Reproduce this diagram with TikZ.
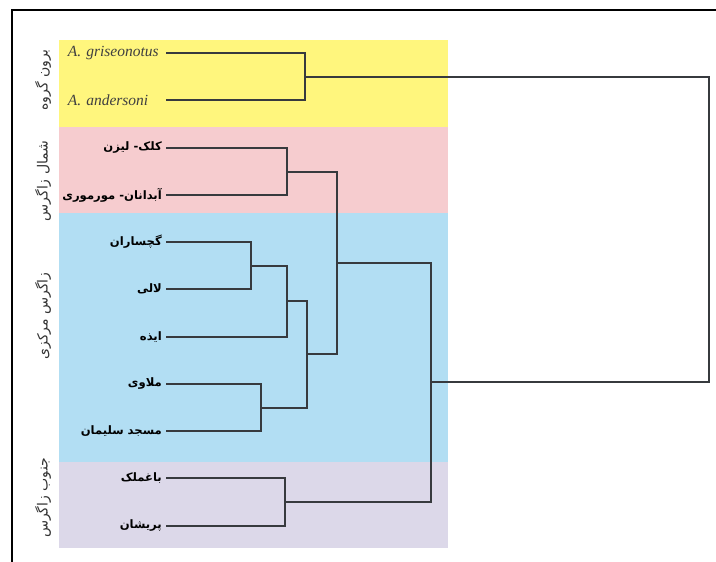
\documentclass[tikz,border=0pt]{standalone}
\usepackage{fontspec}
\setmainfont{Liberation Serif}
\newfontfamily\farsi[Script=Arabic]{DejaVu Sans}
\TeXXeTstate=1

\definecolor{outgroup}{RGB}{255,246,125}
\definecolor{northzag}{RGB}{246,204,207}
\definecolor{centralzag}{RGB}{178,222,243}
\definecolor{southzag}{RGB}{220,216,233}
\definecolor{treeline}{RGB}{55,58,62}

\newcommand{\faname}[1]{{\farsi\bfseries\beginR #1\endR}}
\newcommand{\fagroup}[1]{{\farsi\beginR #1\endR}}

\tikzset{
  branch/.style={draw=treeline, line width=1.6pt},
  leaf/.style={anchor=east, inner xsep=4pt, font=\fontsize{11.6}{14}\selectfont},
  outleaf/.style={anchor=east, inner xsep=3pt, text width=95pt, align=left,
    text=black!75, font=\fontsize{15.5}{17}\selectfont\itshape},
  group/.style={rotate=90, text=black!80, font=\fontsize{14}{16}\selectfont}
}

\begin{document}
\begin{tikzpicture}[x=1pt,y=-1pt]
\useasboundingbox (0,0) rectangle (716,562);

\fill [outgroup] (59,40) rectangle (448,127);
\fill [northzag] (59,127) rectangle (448,213);
\fill [centralzag] (59,213) rectangle (448,462);
\fill [southzag] (59,462) rectangle (448,548);

\draw [line width=1.6pt] (12,562) -- (12,10) -- (716,10);

\node (outgrp) [group] at (43,80) {\fagroup{برون گروه}};
\node (northgrp) [group] at (43,181) {\fagroup{شمال زاگرس}};
\node (centralgrp) [group] at (43,316) {\fagroup{زاگرس مرکزی}};
\node (southgrp) [group] at (43,498) {\fagroup{جنوب زاگرس}};

\node (gris) [outleaf] at (166,53) {A. griseonotus};
\node (ander) [outleaf] at (166,100) {A. andersoni};
\node (kelk) [leaf] at (166,148) {\faname{کلک\kern0pt- لیزن}};
\node (abdanan) [leaf] at (166,195) {\faname{آبدانان\kern0pt- مورموری}};
\node (gach) [leaf] at (166,242) {\faname{گچساران}};
\node (lali) [leaf] at (166,289) {\faname{لالی}};
\node (izeh) [leaf] at (166,337) {\faname{ایذه}};
\node (malavi) [leaf] at (166,384) {\faname{ملاوی}};
\node (masjed) [leaf] at (166,431) {\faname{مسجد سلیمان}};
\node (bagh) [leaf] at (166,478) {\faname{باغملک}};
\node (pirshan) [leaf] at (166,526) {\faname{پریشان}};

\coordinate (n1) at (305,77);
\coordinate (n2) at (287,172);
\coordinate (n3) at (251,266);
\coordinate (n4) at (287,301);
\coordinate (n5) at (261,408);
\coordinate (n6) at (307,354);
\coordinate (n7) at (337,263);
\coordinate (n8) at (285,502);
\coordinate (n9) at (431,382);
\coordinate (n10) at (709,230);

\draw [branch] (gris.east) -| (n1) |- (ander.east);
\draw [branch] (kelk) -| (n2) |- (abdanan);
\draw [branch] (gach) -| (n3) |- (lali);
\draw [branch] (n3) -| (n4) |- (izeh);
\draw [branch] (malavi) -| (n5) |- (masjed);
\draw [branch] (n4) -| (n6) |- (n5);
\draw [branch] (n2) -| (n7) |- (n6);
\draw [branch] (bagh) -| (n8) |- (pirshan);
\draw [branch] (n7) -| (n9) |- (n8);
\draw [branch] (n1) -| (n10) |- (n9);

\end{tikzpicture}
\end{document}
